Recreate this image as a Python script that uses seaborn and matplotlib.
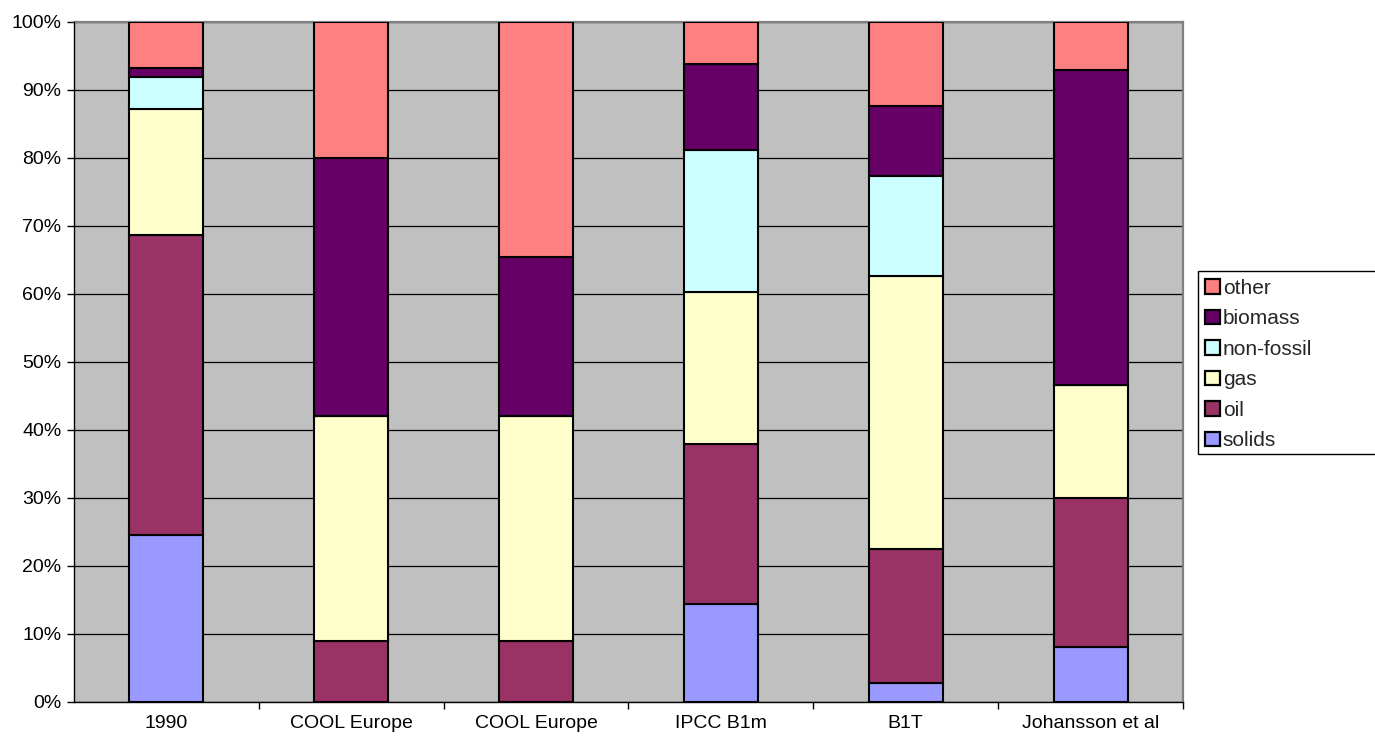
import matplotlib
matplotlib.use("Agg")
import matplotlib.pyplot as plt
from matplotlib.patches import Patch, Rectangle
from matplotlib.ticker import FixedLocator, FuncFormatter
import seaborn as sns
import numpy as np

# Scenario labels (two separate COOL Europe variants)
scenarios = ["1990", "COOL Europe", "COOL Europe", "IPCC B1m", "B1T", "Johansson et al"]

# Share of primary energy by source, percent (bottom to top of the stack)
solids = [24.5, 0.0, 0.0, 14.4, 2.8, 8.1]
oil = [44.2, 8.9, 8.9, 23.5, 19.7, 21.9]
gas = [18.5, 33.2, 33.2, 22.4, 40.1, 16.6]
non_fossil = [4.7, 0.0, 0.0, 20.9, 14.8, 0.0]
biomass = [1.3, 37.9, 23.4, 12.6, 10.3, 46.4]
other = [6.8, 20.0, 34.5, 6.2, 12.3, 7.0]

series_names = ["solids", "oil", "gas", "non-fossil", "biomass", "other"]
series_values = [solids, oil, gas, non_fossil, biomass, other]
series_colors = ["#9999FF", "#993366", "#FFFFCC", "#CCFFFF", "#660066", "#FF8080"]

sns.set_theme(style="white")
plt.rcParams["font.family"] = ["Liberation Sans", "DejaVu Sans"]

fig = plt.figure(figsize=(13.75, 7.4), dpi=100)
ax = fig.add_axes([74 / 1375, 38 / 740, (1183 - 74) / 1375, 680 / 740])
ax.set_facecolor("#C0C0C0")

idx = list(range(len(scenarios)))
bottom = np.zeros(len(scenarios))
for name, vals, col in zip(series_names, series_values, series_colors):
    sns.barplot(x=idx, y=vals, order=idx, bottom=bottom, color=col,
                edgecolor="black", linewidth=1.5, width=0.4, errorbar=None,
                saturation=1, ax=ax, zorder=3)
    bottom = bottom + np.array(vals)

ax.set_xlim(-0.5, len(scenarios) - 0.5)
ax.set_ylim(0, 100)

# horizontal gridlines
ax.yaxis.set_major_locator(FixedLocator(np.arange(0, 101, 10)))
ax.yaxis.set_major_formatter(FuncFormatter(lambda v, p: f"{int(round(v))}%"))
ax.grid(axis="y", color="black", linewidth=0.9, zorder=1)
ax.grid(axis="x", visible=False)
ax.set_axisbelow(True)

ax.set_xticks(idx)
ax.set_xticklabels(scenarios)
ax.set_xticks(np.arange(0.5, len(scenarios) - 0.5 + 1e-9, 1.0), minor=True)
ax.tick_params(axis="x", which="major", length=0, pad=9, labelsize=14, colors="black")
ax.tick_params(axis="x", which="minor", bottom=True, length=5, width=1, color="black", direction="out")
ax.tick_params(axis="y", which="major", left=True, length=5, width=1, color="black",
               direction="out", pad=4, labelsize=14, labelcolor="black")
ax.set_xlabel("")
ax.set_ylabel("")

for side in ["left", "bottom"]:
    ax.spines[side].set_color("black")
    ax.spines[side].set_linewidth(1.0)
for side in ["top", "right"]:
    ax.spines[side].set_color("#808080")
    ax.spines[side].set_linewidth(1.6)
    ax.spines[side].set_visible(True)
ax.spines["left"].set_zorder(4)
ax.spines["bottom"].set_zorder(4)

# legend, listed top of stack first, inside a plain black frame
handles = [Patch(facecolor=c, edgecolor="black", linewidth=1.6, label=n)
           for n, c in zip(series_names, series_colors)][::-1]
fig.legend(handles=handles, loc="upper left",
           bbox_to_anchor=(1205 / 1375, 1 - 279 / 740), frameon=False,
           fontsize=15, handlelength=0.7, handleheight=0.7, handletextpad=0.15,
           labelspacing=0.55, borderpad=0, borderaxespad=0)
fig.add_artist(Rectangle((1198 / 1375, 1 - 454 / 740), (1376 - 1198) / 1375, (454 - 271) / 740,
                         transform=fig.transFigure, fill=False, edgecolor="black", linewidth=1.0))

fig.savefig("out.png", dpi=100, facecolor="white")
